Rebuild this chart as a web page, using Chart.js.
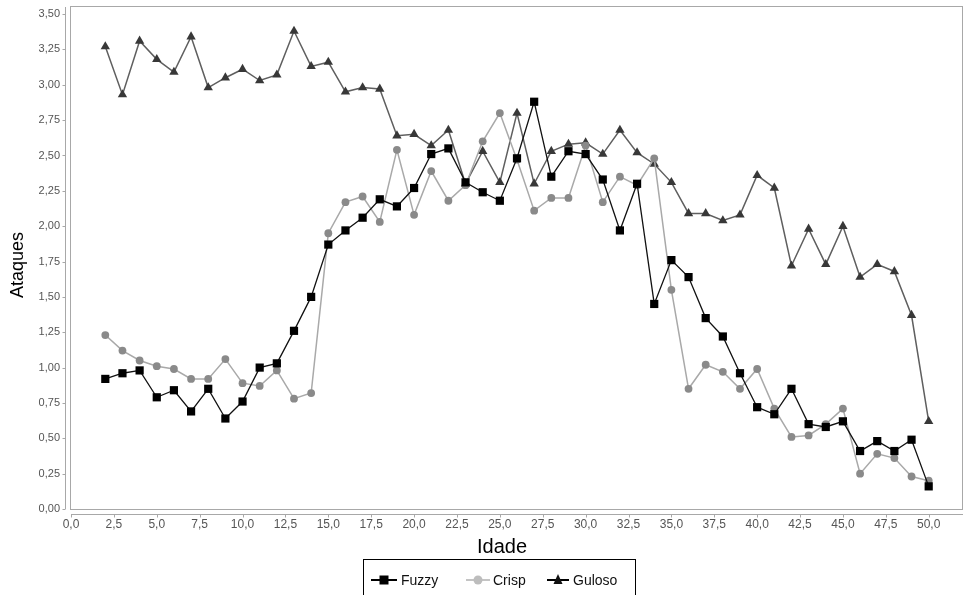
<!DOCTYPE html>
<html>
<head>
<meta charset="utf-8">
<script src="https://cdn.jsdelivr.net/npm/chart.js@4/dist/chart.umd.min.js"></script>
<style>
  html, body { margin: 0; padding: 0; background: #fff; }
  #wrap { width: 964px; height: 595px; position: relative; }
</style>
</head>
<body>
<div id="wrap"><canvas id="c" width="964" height="595"></canvas></div>
<script>
// Idade (x) de 2 a 50
const idades = [2, 3, 4, 5, 6, 7, 8, 9, 10, 11, 12, 13, 14, 15, 16, 17, 18, 19, 20, 21, 22, 23, 24, 25, 26,
  27, 28, 29, 30, 31, 32, 33, 34, 35, 36, 37, 38, 39, 40, 41, 42, 43, 44, 45, 46, 47, 48, 49, 50];

// Ataques por estratégia
const fuzzy = [0.92, 0.96, 0.98, 0.79, 0.84, 0.69, 0.85, 0.64, 0.76, 1.00, 1.03, 1.26, 1.50, 1.87, 1.97, 2.06,
  2.19, 2.14, 2.27, 2.51, 2.55, 2.31, 2.24, 2.18, 2.48, 2.88, 2.35, 2.53, 2.51, 2.33, 1.97, 2.30, 1.45, 1.76,
  1.64, 1.35, 1.22, 0.96, 0.72, 0.67, 0.85, 0.60, 0.58, 0.62, 0.41, 0.48, 0.41, 0.49, 0.16];
const crisp = [1.23, 1.12, 1.05, 1.01, 0.99, 0.92, 0.92, 1.06, 0.89, 0.87, 0.98, 0.78, 0.82, 1.95, 2.17, 2.21,
  2.03, 2.54, 2.08, 2.39, 2.18, 2.29, 2.60, 2.80, 2.47, 2.11, 2.20, 2.20, 2.57, 2.17, 2.35, 2.29, 2.48, 1.55,
  0.85, 1.02, 0.97, 0.85, 0.99, 0.71, 0.51, 0.52, 0.60, 0.71, 0.25, 0.39, 0.36, 0.23, 0.20];
const guloso = [3.27, 2.93, 3.31, 3.18, 3.09, 3.34, 2.98, 3.05, 3.11, 3.03, 3.07, 3.38, 3.13, 3.16, 2.95, 2.98,
  2.97, 2.64, 2.65, 2.57, 2.68, 2.30, 2.53, 2.31, 2.80, 2.30, 2.53, 2.58, 2.59, 2.51, 2.68, 2.52, 2.44, 2.31,
  2.09, 2.09, 2.04, 2.08, 2.36, 2.27, 1.72, 1.98, 1.73, 2.00, 1.64, 1.73, 1.68, 1.37, 0.62];

// Marcas dos eixos
const xTicks = [0, 2.5, 5, 7.5, 10, 12.5, 15, 17.5, 20, 22.5, 25, 27.5, 30, 32.5, 35, 37.5, 40, 42.5, 45, 47.5, 50];
const yTicks = [0, 0.25, 0.5, 0.75, 1, 1.25, 1.5, 1.75, 2, 2.25, 2.5, 2.75, 3, 3.25, 3.5];

const FONT = '"Liberation Sans", Arial, sans-serif';
const pts = (arr) => idades.map((x, i) => ({ x: x, y: arr[i] }));
const virgula = (v, d) => v.toFixed(d).replace('.', ',');

// Moldura, eixos deslocados com rótulos, títulos e legenda em caixa
const decor = {
  id: 'decor',
  beforeDatasetsDraw(chart) {
    const { ctx, chartArea: a, scales } = chart;
    ctx.save();
    ctx.strokeStyle = '#a8a8a8';
    ctx.lineWidth = 1;
    ctx.strokeRect(a.left - 0.5, a.top - 0.5, a.right - a.left, a.bottom - a.top + 1);
    const ax = 65.5, ay = 514.5;
    ctx.beginPath();
    // eixo y
    ctx.moveTo(ax, a.top); ctx.lineTo(ax, a.bottom);
    yTicks.forEach(v => {
      const y = Math.round(scales.y.getPixelForValue(v)) + 0.5;
      ctx.moveTo(ax, y); ctx.lineTo(ax - 3, y);
    });
    // eixo x
    ctx.moveTo(a.left, ay); ctx.lineTo(a.right, ay);
    xTicks.forEach(v => {
      const x = Math.round(scales.x.getPixelForValue(v)) + 0.5;
      ctx.moveTo(x, ay); ctx.lineTo(x, ay + 3);
    });
    ctx.stroke();

    // rótulos das marcas
    ctx.fillStyle = '#555';
    ctx.font = '11px ' + FONT;
    ctx.textAlign = 'right';
    ctx.textBaseline = 'middle';
    yTicks.forEach(v => ctx.fillText(virgula(v, 2), 60, scales.y.getPixelForValue(v)));
    ctx.font = '12px ' + FONT;
    ctx.textAlign = 'center';
    ctx.textBaseline = 'top';
    xTicks.forEach(v => ctx.fillText(virgula(v, 1), scales.x.getPixelForValue(v), 519));
    ctx.restore();
  },
  afterDraw(chart) {
    const { ctx } = chart;
    ctx.save();
    ctx.fillStyle = '#000';
    // títulos dos eixos
    ctx.font = '20px ' + FONT;
    ctx.textAlign = 'center';
    ctx.textBaseline = 'alphabetic';
    ctx.fillText('Idade', 502, 553);
    ctx.save();
    ctx.translate(23, 265);
    ctx.rotate(-Math.PI / 2);
    ctx.font = '18px ' + FONT;
    ctx.fillText('Ataques', 0, 0);
    ctx.restore();

    // legenda
    ctx.strokeStyle = '#000';
    ctx.lineWidth = 1;
    ctx.strokeRect(363.5, 559.5, 272, 50);
    const itens = [
      { x0: 371, x1: 397, tx: 401 },
      { x0: 466, x1: 490, tx: 493 },
      { x0: 547, x1: 569, tx: 573 }
    ];
    const cores = [
      { line: '#000', fill: '#000' },
      { line: '#c4c4c4', fill: '#bdbdbd' },
      { line: '#000', fill: '#111' }
    ];
    const ly = 580;
    chart.data.datasets.forEach((ds, i) => {
      const it = itens[i], c = cores[i];
      ctx.strokeStyle = c.line;
      ctx.lineWidth = 2;
      ctx.beginPath();
      ctx.moveTo(it.x0, ly); ctx.lineTo(it.x1, ly);
      ctx.stroke();
      const cx = (it.x0 + it.x1) / 2;
      ctx.fillStyle = c.fill;
      ctx.beginPath();
      if (ds.pointStyle === 'rect') {
        ctx.rect(cx - 4.5, ly - 4.5, 9, 9);
      } else if (ds.pointStyle === 'circle') {
        ctx.arc(cx, ly, 4.5, 0, Math.PI * 2);
      } else {
        ctx.moveTo(cx, ly - 6); ctx.lineTo(cx + 4.5, ly + 4); ctx.lineTo(cx - 4.5, ly + 4); ctx.closePath();
      }
      ctx.fill();
      ctx.fillStyle = '#111';
      ctx.font = '14px ' + FONT;
      ctx.textAlign = 'left';
      ctx.fillText(ds.label, it.tx, 584.5);
    });
    ctx.restore();
  }
};

new Chart(document.getElementById('c'), {
  type: 'line',
  data: {
    datasets: [
      {
        label: 'Fuzzy', data: pts(fuzzy),
        borderColor: '#111', borderWidth: 1.3,
        pointStyle: 'rect', pointRadius: 5.8, pointBackgroundColor: '#000', pointBorderColor: '#000', pointBorderWidth: 0
      },
      {
        label: 'Crisp', data: pts(crisp),
        borderColor: '#a9a9a9', borderWidth: 1.5,
        pointStyle: 'circle', pointRadius: 3.9, pointBackgroundColor: '#8a8a8a', pointBorderColor: '#8a8a8a', pointBorderWidth: 0
      },
      {
        label: 'Guloso', data: pts(guloso),
        borderColor: '#5f5f5f', borderWidth: 1.5,
        pointStyle: 'triangle', pointRadius: 5.4, pointBackgroundColor: '#383838', pointBorderColor: '#383838', pointBorderWidth: 0
      }
    ]
  },
  options: {
    responsive: false,
    animation: false,
    devicePixelRatio: 1,
    layout: { autoPadding: false, padding: { top: 7, right: 1, left: 0, bottom: 0 } },
    elements: { line: { tension: 0 } },
    plugins: { legend: { display: false }, tooltip: { enabled: false } },
    scales: {
      x: {
        type: 'linear', position: 'bottom', min: 0, max: 52,
        grid: { display: false, drawTicks: false },
        border: { display: false },
        ticks: { display: false },
        afterBuildTicks: s => { s.ticks = xTicks.map(v => ({ value: v })); },
        afterFit: s => { s.height = 86; }
      },
      y: {
        type: 'linear', position: 'left', min: 0, max: 3.55,
        grid: { display: false, drawTicks: false },
        border: { display: false },
        ticks: { display: false },
        afterBuildTicks: s => { s.ticks = yTicks.map(v => ({ value: v })); },
        afterFit: s => { s.width = 71; }
      }
    }
  },
  plugins: [decor]
});
</script>
</body>
</html>
